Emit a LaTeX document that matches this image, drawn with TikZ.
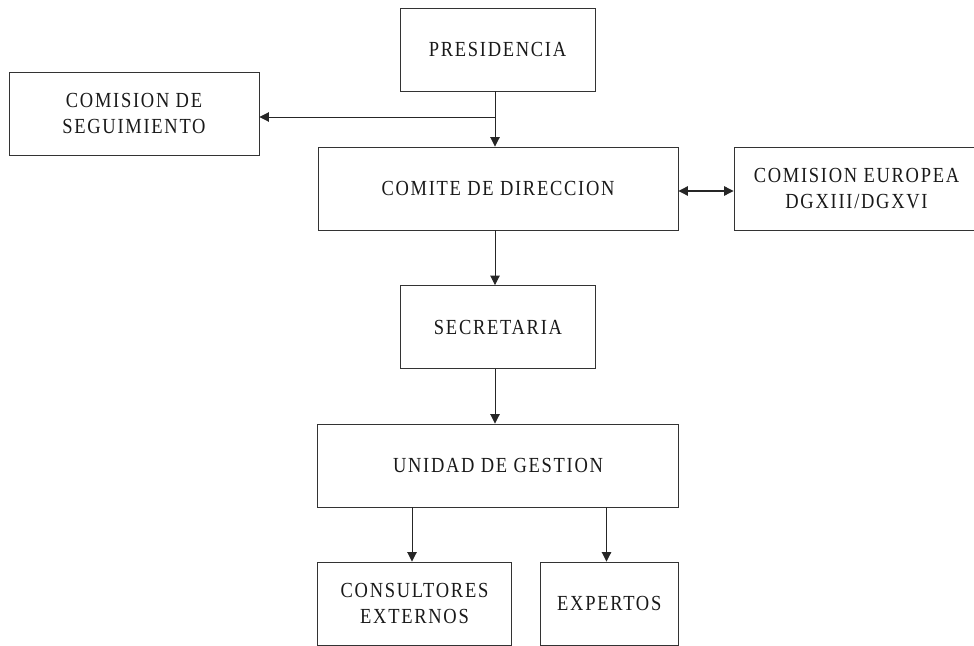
\documentclass[tikz,border=0pt]{standalone}
\usepackage{fontspec}
\setmainfont[LetterSpace=8,FakeStretch=0.86]{Liberation Serif}
\usetikzlibrary{arrows.meta}
\tikzset{
  box/.style={draw=black!80, line width=0.9pt, rectangle, minimum height=83pt, inner sep=0pt, align=center, font=\fontsize{21.5}{26}\selectfont, text=black!90},
  arr/.style={draw=black!85, line width=0.9pt, -{Triangle[length=9.5pt,width=9.5pt]}},
  darr/.style={draw=black!85, line width=1.1pt, {Triangle[length=9.5pt,width=9.5pt]}-{Triangle[length=9.5pt,width=9.5pt]}}
}
\begin{document}
\begin{tikzpicture}[x=1pt,y=-1pt]
\useasboundingbox (0,0) rectangle (974,645);
\begin{scope}
\clip (0,0) rectangle (974,645);
\node[box, minimum width=195pt] (pres) at (497.5,49.5) {PRESIDENCIA};
\node[box, minimum width=250pt] (seg) at (134,113.5) {COMISION DE\\SEGUIMIENTO};
\node[box, minimum width=360pt] (comite) at (498,188.5) {COMITE DE DIRECCION};
\node[box, minimum width=245pt] (euro) at (856.5,188.5) {COMISION EUROPEA\\DGXIII/DGXVI};
\node[box, minimum width=195pt] (secr) at (498,327) {SECRETARIA};
\node[box, minimum width=361pt] (unidad) at (498,465.5) {UNIDAD DE GESTION};
\node[box, minimum width=194pt] (cons) at (414.5,603.5) {CONSULTORES\\EXTERNOS};
\node[box, minimum width=138.5pt] (exp) at (609.25,603.5) {EXPERTOS};
\coordinate (j) at (495,117);
\coordinate (xl) at (412,0);
\coordinate (xr) at (606.5,0);
\draw[draw=black!85, line width=0.9pt] (pres.south -| j) -- (j);
\draw[arr] (j) -- (comite.north -| j);
\draw[arr] (j) -- (seg.east |- j);
\draw[darr] (comite.east |- 0,191) -- (euro.west |- 0,191);
\draw[arr] (comite.south -| j) -- (secr.north -| j);
\draw[arr] (secr.south -| j) -- (unidad.north -| j);
\draw[arr] (unidad.south -| xl) -- (cons.north -| xl);
\draw[arr] (unidad.south -| xr) -- (exp.north -| xr);
\end{scope}
\end{tikzpicture}
\end{document}
